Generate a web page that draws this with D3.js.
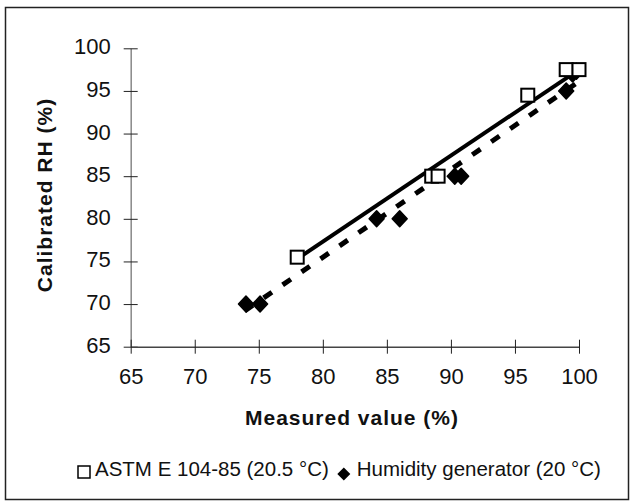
<!DOCTYPE html>
<html>
<head>
<meta charset="utf-8">
<script src="https://cdn.jsdelivr.net/npm/d3@7"></script>
<style>
  body { margin: 0; background: #fff; }
  text { font-family: Arial, "Liberation Sans", sans-serif; fill: #111; }
</style>
</head>
<body>
<div id="chart"></div>
<script>
// Data
const astmX = [78, 88.5, 89, 96, 99, 100];
const astmY = [75.5, 85, 85, 94.5, 97.5, 97.5];
const humX = [74, 75.1, 84.2, 86, 90.3, 90.8, 99, 99.5, 99.8];
const humY = [70, 70, 80, 80, 85, 85, 95, 97, 97.3];
// trend lines (end points)
const astmTrendX = [78, 99.8];
const astmTrendY = [75.3, 97.3];
const humTrendX = [73.9, 99.8];
const humTrendY = [69.2, 95.9];
const xTicks = [65, 70, 75, 80, 85, 90, 95, 100];
const yTicks = [65, 70, 75, 80, 85, 90, 95, 100];

const W = 634, H = 503;

const svg = d3.select("#chart")
    .append("svg")
    .attr("width", W)
    .attr("height", H);

// outer frame
svg.append("rect")
    .attr("x", 5.5).attr("y", 7.5)
    .attr("width", 623).attr("height", 492)
    .attr("fill", "none")
    .attr("stroke", "#222")
    .attr("stroke-width", 1.5);

const x = d3.scaleLinear().domain([65, 100]).range([130.7, 579]);
const y = d3.scaleLinear().domain([65, 100]).range([346.7, 48.3]);

// y axis
const gy = svg.append("g")
    .attr("transform", `translate(${x(65)},0)`)
    .call(d3.axisLeft(y).tickValues(yTicks).tickSizeInner(7).tickSizeOuter(0).tickPadding(13));
gy.select(".domain").attr("stroke", "#888").attr("stroke-width", 1.5);
gy.selectAll(".tick line").attr("x1", 7).attr("stroke", "#222");
gy.selectAll(".tick text").style("font-size", "22px").attr("dy", "0.25em");

// x axis
const gx = svg.append("g")
    .attr("transform", `translate(0,${y(65)})`)
    .call(d3.axisBottom(x).tickValues(xTicks).tickSizeInner(7).tickSizeOuter(0).tickPadding(15));
gx.select(".domain").attr("stroke", "#444").attr("stroke-width", 1.5);
gx.selectAll(".tick line").attr("y1", -7).attr("stroke", "#222");
gx.selectAll(".tick text").style("font-size", "22px");

// axis titles
svg.append("text")
    .attr("x", 352)
    .attr("y", 425)
    .attr("text-anchor", "middle")
    .style("font-size", "21px")
    .style("font-weight", "bold")
    .style("letter-spacing", "1px")
    .text("Measured value (%)");

svg.append("text")
    .attr("transform", `translate(52,195) rotate(-90)`)
    .attr("text-anchor", "middle")
    .style("font-size", "21px")
    .style("font-weight", "bold")
    .style("letter-spacing", "1px")
    .text("Calibrated RH (%)");

// trend lines
const line = d3.line().x(d => x(d[0])).y(d => y(d[1]));

svg.append("path")
    .datum(humTrendX.map((v, i) => [v, humTrendY[i]]))
    .attr("d", line)
    .attr("fill", "none")
    .attr("stroke", "#000")
    .attr("stroke-width", 5)
    .attr("stroke-dasharray", "10,13");

svg.append("path")
    .datum(astmTrendX.map((v, i) => [v, astmTrendY[i]]))
    .attr("d", line)
    .attr("fill", "none")
    .attr("stroke", "#000")
    .attr("stroke-width", 4);

// markers
const diamond = "M0,-8L7.5,0L0,8L-7.5,0Z";

svg.selectAll(".hum")
    .data(humX.map((v, i) => [v, humY[i]]))
    .enter()
    .append("path")
    .attr("class", "hum")
    .attr("d", diamond)
    .attr("transform", d => `translate(${x(d[0])},${y(d[1])})`)
    .attr("fill", "#000")
    .attr("stroke", "#000")
    .attr("stroke-linejoin", "round")
    .attr("stroke-width", 1.5);

svg.selectAll(".astm")
    .data(astmX.map((v, i) => [v, astmY[i]]))
    .enter()
    .append("rect")
    .attr("class", "astm")
    .attr("x", d => x(d[0]) - 6.5)
    .attr("y", d => y(d[1]) - 6.5)
    .attr("width", 13)
    .attr("height", 13)
    .attr("fill", "#fff")
    .attr("stroke", "#000")
    .attr("stroke-width", 2);

// legend
const legend = svg.append("g");
legend.append("rect")
    .attr("x", 78).attr("y", 466)
    .attr("width", 12).attr("height", 12)
    .attr("fill", "#fff")
    .attr("stroke", "#000")
    .attr("stroke-width", 1.5);
const t1 = legend.append("text")
    .attr("x", 95).attr("y", 476)
    .style("font-size", "20.5px")
    .text("ASTM E 104-85 (20.5 °C)");
const end1 = 95 + t1.node().getComputedTextLength();
legend.append("path")
    .attr("d", "M0,-6.5L6.5,0L0,6.5L-6.5,0Z")
    .attr("transform", `translate(${end1 + 15},474)`)
    .attr("fill", "#000");
legend.append("text")
    .attr("x", end1 + 28).attr("y", 476)
    .style("font-size", "20.5px")
    .text("Humidity generator (20 °C)");
</script>
</body>
</html>
